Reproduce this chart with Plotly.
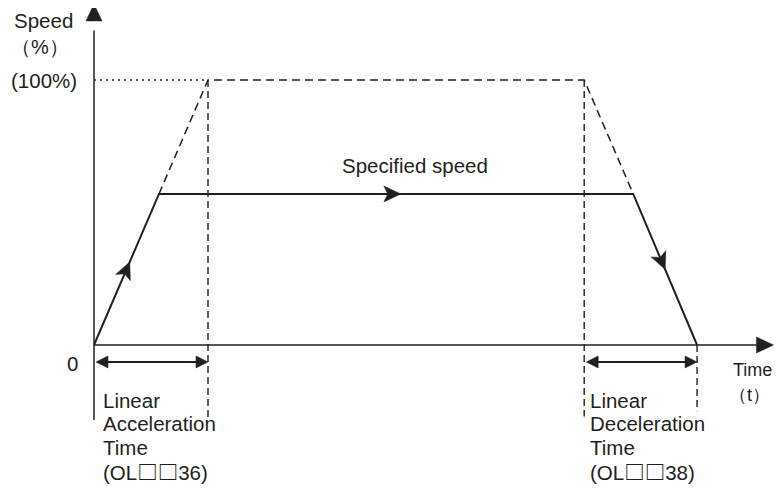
import plotly.graph_objects as go
import math

# ---------------- data (time in units of the acceleration time, speed in %) ----------------
profile_time = [0.0, 0.57, 4.73, 5.29]        # solid speed profile
profile_speed = [0, 57, 57, 0]
full_time = [0.57, 1.0, 4.30, 4.73]           # dashed 100 % profile
full_speed = [57, 100, 100, 57]
ref_time = [0.0, 1.0]                         # dotted 100 % reference
ref_speed = [100, 100]
acc_window = [0.0, 1.0]                       # Linear Acceleration Time
dec_window = [4.30, 5.29]                     # Linear Deceleration Time
guide_time = [1.0, 4.30, 5.29]
guide_top = [100, 100, 0]
guide_bottom = [-28, -27, -25]
window_level = -6.4
arrow_fracs = [0.55, 0.51, 0.5]               # direction arrows along the 3 solid segments
y_axis_span = [-28.3, 128.7]
x_axis_span = [0.0, 5.96]

# ---------------- layout geometry ----------------
W, H = 782, 488
OFF = 8                      # page body margin
OX, OY = 94 - OFF, 345 - OFF  # origin in figure pixels
XR = [-OX / 114, (W - OX) / 114]
YR = [-(H - OY) / 2.65, OY / 2.65]
SX = W / (XR[1] - XR[0])
SY = H / (YR[1] - YR[0])

INK = "#231f20"
GREY = "#58595b"
FONT = "Liberation Sans, Arial, DejaVu Sans, sans-serif"
SQ = "<span style=\"font-family:'Noto Sans CJK JP';font-weight:bold\">\u25a1\u25a1</span>"

fig = go.Figure()


def line(x, y, color=INK, width=2, dash="solid"):
    fig.add_trace(go.Scatter(x=x, y=y, mode="lines", hoverinfo="skip",
                             line=dict(color=color, width=width, dash=dash)))


def head(tip, frm, length, width, notch=0.0, color=INK):
    dx = (tip[0] - frm[0]) * SX
    dy = -(tip[1] - frm[1]) * SY
    n = math.hypot(dx, dy)
    dx, dy = dx / n, dy / n
    px, py = -dy, dx
    bx, by = -dx * length, -dy * length
    pts = [(0, 0),
           (bx + px * width / 2, by + py * width / 2),
           (bx + dx * notch, by + dy * notch),
           (bx - px * width / 2, by - py * width / 2),
           (0, 0)]
    xs = [tip[0] + p[0] / SX for p in pts]
    ys = [tip[1] - p[1] / SY for p in pts]
    fig.add_trace(go.Scatter(x=xs, y=ys, mode="lines", fill="toself", fillcolor=color,
                             line=dict(color=color, width=0.5), hoverinfo="skip"))


# axes
line([0, 0], [y_axis_span[0], y_axis_span[1] - 10], color=GREY, width=2)
head((0, y_axis_span[1]), (0, 0), 17, 16, color=INK)
line([x_axis_span[0], x_axis_span[1] - 0.08], [0, 0], width=1.6)
head((x_axis_span[1], 0), (0, 0), 17, 16)

# guides
line(ref_time, ref_speed, width=1.3, dash="2px,4px")
line(full_time, full_speed, width=1.5, dash="8px,5px")
for t, top, bot in zip(guide_time, guide_top, guide_bottom):
    line([t, t], [top, bot], width=1.4, dash="7px,4px")

# solid profile
line(profile_time, profile_speed, width=2)
for i, f in enumerate(arrow_fracs):
    t0, t1 = profile_time[i], profile_time[i + 1]
    v0, v1 = profile_speed[i], profile_speed[i + 1]
    tip = (t0 + (t1 - t0) * f, v0 + (v1 - v0) * f)
    head(tip, (t0, v0), 17, 16, notch=4)

# time windows (double arrows)
for w in (acc_window, dec_window):
    a = w[0] + 2 / SX
    b = w[1]
    line([a + 6 / SX, b - 6 / SX], [window_level, window_level], width=2)
    head((a, window_level), (b, window_level), 12, 12)
    head((b, window_level), (a, window_level), 12, 12)

# ---------------- text ----------------
def label(text, x, y, xanchor="left", size=20.5):
    fig.add_annotation(text=text, x=x, y=y, xref="x", yref="y", showarrow=False,
                       xanchor=xanchor, yanchor="middle",
                       font=dict(family=FONT, size=size, color=INK))


def tx(px):
    return XR[0] + (px - OFF) / SX


def vy(py):
    return YR[1] - (py - OFF) / SY


label("Speed", tx(12), vy(20))
label("（%）", tx(40), vy(47), xanchor="center", size=20)
label("(100%)", tx(79), vy(80), xanchor="right")
label("0", tx(72), vy(363), xanchor="center")
label("Specified speed", tx(415), vy(165), xanchor="center")
label("Time", tx(731), vy(370), size=18)
label("（t）", tx(749), vy(395), xanchor="center", size=18)

acc_lines = ["Linear", "Acceleration", "Time", "(OL" + SQ + "36)"]
dec_lines = ["Linear", "Deceleration", "Time", "(OL" + SQ + "38)"]
rows = [400, 423, 447, 471]
for txt, r in zip(acc_lines, rows):
    label(txt, tx(101), vy(r))
for txt, r in zip(dec_lines, rows):
    label(txt, tx(588), vy(r))

fig.update_layout(
    width=W, height=H, margin=dict(l=0, r=0, t=0, b=0),
    paper_bgcolor="white", plot_bgcolor="white", showlegend=False,
    xaxis=dict(range=XR, visible=False, fixedrange=True),
    yaxis=dict(range=YR, visible=False, fixedrange=True),
)
fig.write_html("out.html")
